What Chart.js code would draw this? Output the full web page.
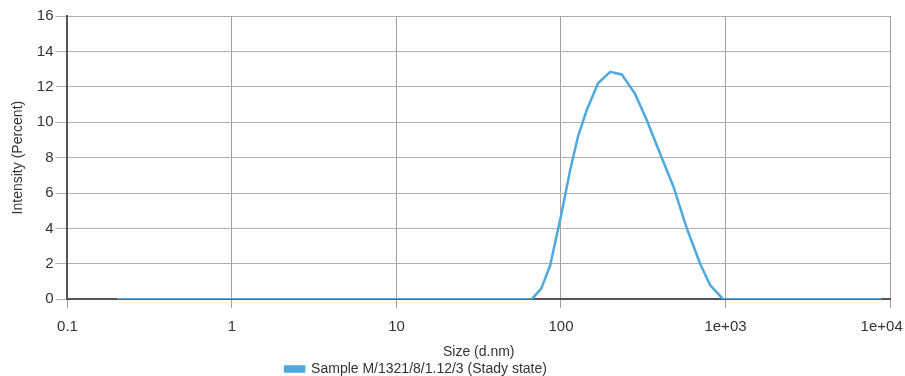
<!DOCTYPE html>
<html>
<head>
<meta charset="utf-8">
<script src="https://cdn.jsdelivr.net/npm/chart.js@4/dist/chart.umd.min.js"></script>
<style>
  html, body { margin: 0; padding: 0; background: #fff; }
  #wrap { width: 905px; height: 376px; }
</style>
</head>
<body>
<div id="wrap"><canvas id="chart" width="905" height="376"></canvas></div>
<script>
// size distribution
const sizes = [0.2, 66.5, 75.8, 85.9, 101, 113.7, 127, 143.6, 168, 199, 234, 282, 333, 401, 481, 582, 701, 806, 967, 8900];
const intensity = [0, 0, 0.6, 1.9, 4.9, 7.3, 9.2, 10.7, 12.2, 12.85, 12.7, 11.6, 10.1, 8.2, 6.4, 4.0, 2.0, 0.8, 0, 0];
const xTickValues = [0.1, 1, 10, 100, 1000, 10000];
const xTickLabels = ["0.1", "1", "10", "100", "1e+03", "1e+04    "];
const seriesName = "Sample M/1321/8/1.12/3 (Stady state)";

Chart.defaults.font.family = "'Liberation Sans', Arial, sans-serif";
Chart.defaults.color = "#333";

// legend in the reference sits left of the page centre
const shiftLegend = {
  id: "shiftLegend",
  afterLayout(chart) {
    chart.legend.left -= 34;
    chart.legend.right -= 34;
  }
};

const ctx = document.getElementById("chart").getContext("2d");
const chart = new Chart(ctx, {
  type: "line",
  data: {
    datasets: [{
      label: seriesName,
      data: sizes.map((s, i) => ({ x: s, y: intensity[i] })),
      borderColor: "#4ea9de",
      backgroundColor: "#4ea9de",
      borderWidth: 2.5,
      pointRadius: 0,
      tension: 0,
      fill: false
    }]
  },
  plugins: [shiftLegend],
  options: {
    responsive: false,
    animation: false,
    layout: { padding: { top: 16, left: 10, right: 15, bottom: -10 } },
    plugins: {
      legend: {
        position: "bottom",
        labels: {
          boxWidth: 19,
          boxHeight: 5,
          padding: 4,
          font: { size: 14 },
          color: "#333"
        }
      },
      tooltip: { enabled: false }
    },
    scales: {
      x: {
        type: "logarithmic",
        min: 0.1,
        max: 10000,
        afterBuildTicks(scale) {
          scale.ticks = xTickValues.map(v => ({ value: v, major: true }));
        },
        afterFit(scale) {
          // last label is allowed to run to the canvas edge
          scale.paddingRight = 0;
        },
        ticks: {
          autoSkip: false,
          maxRotation: 0,
          padding: 10,
          font: { size: 15 },
          callback: (value, index) => xTickLabels[index]
        },
        grid: { color: "#a0a0a0", lineWidth: 1, tickLength: 9 },
        border: { color: "#555", width: 2 },
        title: { display: true, text: "Size (d.nm)", font: { size: 14 }, padding: { top: -2, bottom: -3 } }
      },
      y: {
        min: 0,
        max: 16,
        ticks: { stepSize: 2, padding: 2, font: { size: 15 } },
        grid: { color: "#b0b0b0", lineWidth: 1, tickLength: 12 },
        border: { color: "#555", width: 2 },
        title: { display: true, text: "Intensity (Percent)", font: { size: 14 }, padding: { top: 0, bottom: 8 } }
      }
    }
  }
});
</script>
</body>
</html>
